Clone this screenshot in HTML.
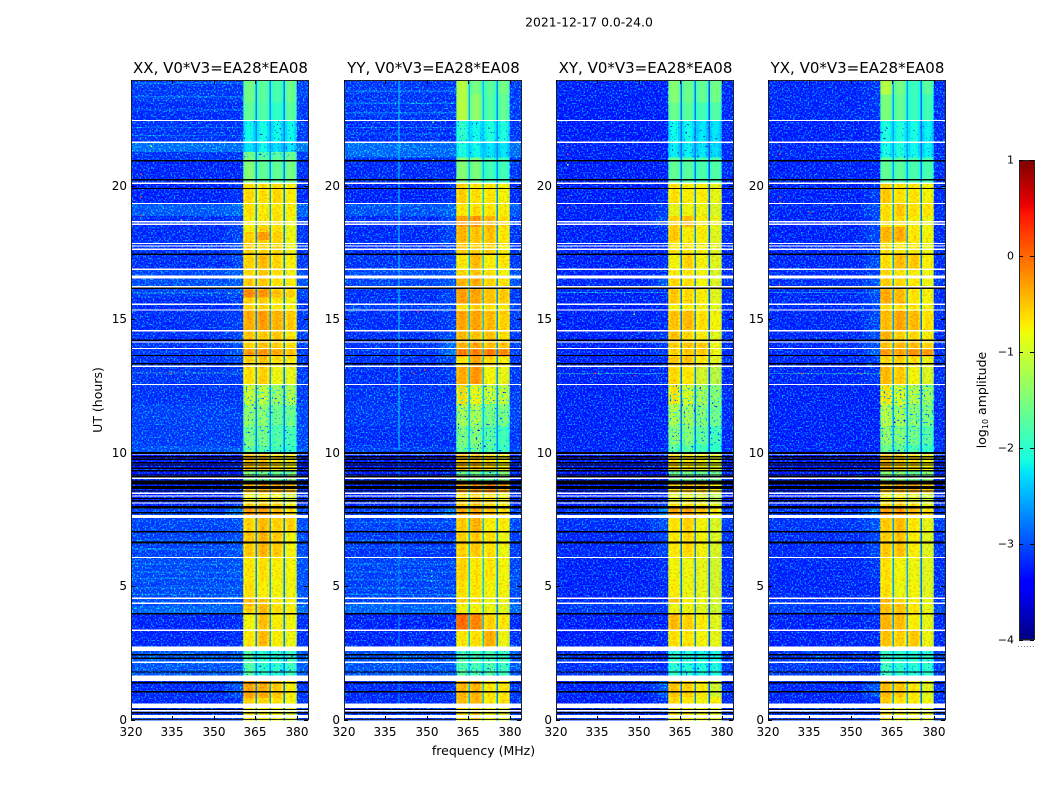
<!DOCTYPE html>
<html lang="en">
<head>
<meta charset="utf-8">
<title>2021-12-17 0.0-24.0</title>
<style>
html,body{margin:0;padding:0;background:#fff;}
svg{display:block;}
text{font-family:"DejaVu Sans","Liberation Sans",sans-serif;fill:#000;}
</style>
</head>
<body>
<svg id="chart" xmlns="http://www.w3.org/2000/svg" width="1050" height="800" viewBox="0 0 1050 800">
  <defs>
    <filter id="speckle" x="0" y="0" width="100%" height="100%" color-interpolation-filters="sRGB">
      <feTurbulence type="fractalNoise" baseFrequency="0.62" numOctaves="1" seed="7"/>
      <feColorMatrix type="matrix" values="0 0 0 0 0  5 0 0 0 -2.5  0 0 0 0 1  0 0 0 0 0.6"/>
    </filter>
    <filter id="cool-speckle" x="0" y="0" width="100%" height="100%" color-interpolation-filters="sRGB">
      <feTurbulence type="fractalNoise" baseFrequency="0.5" numOctaves="1" seed="11"/>
      <feColorMatrix type="matrix" values="0 0 0 0 0  0 4 0 0 -1.1  0 0 0 0 1  6 0 0 0 -3.3"/>
    </filter>
    <filter id="hot-speckle" x="0" y="0" width="100%" height="100%" color-interpolation-filters="sRGB">
      <feTurbulence type="fractalNoise" baseFrequency="0.42 0.55" numOctaves="2" seed="4"/>
      <feColorMatrix type="matrix" values="0 0 0 0 1  3.5 0 0 0 -0.85  0 0 0 0 0  0 0 0 0 0.22"/>
    </filter>
  </defs>
  <rect x="0" y="0" width="1050" height="800" fill="#fff"/>
  <text x="589" y="26.5" font-size="12.4" text-anchor="middle">2021-12-17 0.0-24.0</text>
  <text x="483.5" y="755" font-size="12.5" text-anchor="middle">frequency (MHz)</text>
  <text transform="translate(102,400) rotate(-90)" font-size="12.5" text-anchor="middle">UT (hours)</text>
  <text transform="translate(986,400) rotate(-90)" font-size="12.5" text-anchor="middle">log<tspan font-size="8" dy="2">10</tspan><tspan dy="-2"> amplitude</tspan></text>
  <g id="panels"></g>
  <g id="colorbar"></g>
</svg>
<script>
// ---------- shared axis data ----------
const freqTicks = [320, 335, 350, 365, 380];
const hourTicks = [0, 5, 10, 15, 20];
const colorTicks = [-4, -3, -2, -1, 0, 1];
const panelNames = ['xx', 'yy', 'xy', 'yx'];
const panelTitles = ['XX, V0*V3=EA28*EA08', 'YY, V0*V3=EA28*EA08', 'XY, V0*V3=EA28*EA08', 'YX, V0*V3=EA28*EA08'];

// frequency channel edges (MHz) and what each channel samples
const channelEdges = [320,354,357,360.5,361.4,362.3,363.2,364.1,365,365.6,366.5,367.4,368.3,369.2,370.1,370.6,371.5,372.4,373.3,374.2,375.1,375.7,376.5,377.3,378.2,379.1,380,384];
const channelGroup = ['bg','mid','sh',0,0,0,0,0,'g0',1,1,1,1,1,'g1',2,2,2,2,2,'g2',3,3,3,3,3,'bg'];
const channelOffset = [0,0,0,-0.1,0.04,0.08,0.04,-0.12,0,-0.1,0.05,0.08,0.04,-0.12,0,-0.1,0.05,0.08,0.04,-0.12,0,-0.1,0.05,0.08,0.04,-0.15,0.1];
const subbandRanges = [[360.5,365],[365.6,370.1],[370.6,375.1],[375.7,380]];

// flagged (missing) time samples: [hour, thickness in hours]
const whiteRows = [[22.44,.045],[21.62,.045],[20.08,.05],[19.33,.045],[18.64,.045],[18.55,.045],[17.83,.045],[17.73,.045],[17.61,.05],[16.86,.045],[16.58,.11],[16.21,.045],[15.55,.045],[15.34,.045],[14.56,.045],[14.14,.045],[13.9,.045],[13.23,.05],[12.55,.045],[9.95,.06],[9.03,.05],[8.47,.05],[8.37,.05],[8.11,.05],[7.6,.11],[6.07,.045],[4.54,.05],[4.35,.05],[3.34,.05],[2.65,.17],[2.14,.05],[1.54,.2],[0.51,.16],[0.33,.07],[0.11,.12]];
const blackRows = [[20.93,.05],[20.21,.05],[19.89,.05],[17.43,.05],[16.15,.05],[14.2,.05],[13.63,.05],[13.33,.05],[9.98,.06],[9.84,.05],[9.75,.05],[9.62,.05],[9.53,.05],[9.41,.05],[9.32,.05],[9.16,.05],[9.09,.05],[8.93,.06],[8.85,.08],[8.72,.05],[8.66,.05],[8.56,.05],[8.28,.05],[8.19,.05],[7.95,.1],[7.74,.05],[7.03,.05],[6.63,.06],[3.96,.05],[2.42,.05],[2.29,.05],[1.78,.05],[1.38,.06],[1.04,.05],[0.38,.04],[0.25,.05]];

// log10 amplitude by time block: [top hour, background, shoulder, sub-band 1, 2, 3, 4]
const xxBlocks = [
[24,-2.95,-2.95,-1.6,-1.75,-1.85,-1.65],[23.1,-3.05,-3.05,-1.7,-1.8,-2,-1.75],[22.45,-3,-3,-2.2,-2.15,-2.2,-2.2],
[21.6,-2.3,-2.3,-2.3,-2.2,-2.35,-2.3],[21.25,-3,-3,-1.55,-1.75,-1.7,-1.6],[20.95,-3.15,-3.15,-1.5,-1.7,-1.7,-1.6],
[20.1,-3.2,-3,-.65,-.7,-.65,-.8],[19.3,-2.55,-2.35,-.7,-.8,-.75,-.8],[18.85,-3.05,-2.9,-.8,-.75,-.7,-.85],[18.5,-3.1,-2.8,-.8,-.6,-.7,-.95],
[18.25,-3.1,-2.8,-.6,-.25,-.6,-.9],[17.95,-3.05,-2.7,-.6,-.6,-.65,-.9],[17.45,-3.05,-2.8,-.6,-.45,-.65,-.8],[16.85,-2.75,-2.5,-.65,-.55,-.7,-.85],
[16.55,-2.7,-2.5,-.55,-.55,-.75,-.8],[16.1,-2.9,-2.7,-.1,-.2,-.5,-.6],[15.8,-3.1,-2.9,-.6,-.6,-.75,-.85],[15.3,-3.05,-2.85,-.35,-.25,-.4,-.55],
[14.55,-3.05,-2.8,-.5,-.55,-.55,-.75],[14.15,-3,-2.7,-.6,-.5,-.6,-.7],[13.85,-3,-2.6,-.25,-.2,-.35,-.5],[13.6,-3.05,-2.8,-.6,-.5,-.7,-.8],
[13.2,-3,-2.9,-.7,-.6,-.9,-.95],[12.55,-3,-3,-1,-1.1,-1.3,-1.2],[11.8,-2.85,-2.85,-1.35,-1.4,-1.6,-1.55],[11,-2.9,-2.9,-1.5,-1.55,-1.75,-1.8],
[10.25,-2.65,-2.55,-1.65,-1.75,-1.85,-1.95],[9.95,-3.3,-3.3,-.5,-.5,-.7,-.8],[9.3,-3.25,-3.25,-1.45,-1.5,-1.6,-1.4],[8.85,-3.2,-3.1,-.5,-.3,-.35,-.5],
[8.5,-3.25,-3.2,-.9,-.8,-.9,-1.1],[8.1,-3.2,-3,-.6,-.5,-.6,-.8],[7.9,-2.8,-2.2,-.25,-.25,-.45,-.7],[7.55,-2.8,-2.7,-.6,-.45,-.6,-.6],
[7,-2.85,-2.7,-.55,-.4,-.55,-.85],[6.1,-2.75,-2.7,-.75,-.7,-.8,-.85],[5.2,-2.75,-2.7,-.7,-.8,-.85,-.9],[4.55,-2.7,-2.6,-.45,-.5,-.75,-.85],
[4.25,-2.4,-2.35,-.6,-.45,-.7,-.8],[3.95,-3.15,-3.1,-.85,-.5,-.8,-.85],[3.3,-3.15,-3.05,-.75,-.45,-.8,-.9],[2.75,-2.75,-2.75,-.85,-.85,-.85,-.9],
[2.6,-2.6,-2.6,-1.75,-2,-2,-1.9],[1.45,-3.1,-2.6,-.3,-.35,-.55,-.8],[.8,-3.15,-3.05,-.6,-.65,-.7,-.85],[.45,-3,-3,-.8,-.8,-.85,-1]
];
const yyBlocks = [
[24,-2.95,-2.95,-1.2,-1.6,-1.75,-1.6],[23.4,-3,-3,-1.2,-1.45,-1.8,-1.7],[22.45,-3.05,-3.05,-2,-2.2,-2.1,-2.1],
[21.6,-2.35,-2.35,-2.1,-2.2,-2.3,-2.3],[21.05,-3.1,-3.1,-1.5,-1.55,-1.9,-1.9],[20.1,-3.2,-3,-.6,-.7,-.75,-.85],
[19.3,-2.65,-2.45,-.75,-.7,-.75,-.8],[18.85,-3.1,-2.7,-.25,-.2,-.4,-.65],[18.45,-3.1,-2.8,-.4,-.5,-.5,-.75],[17.9,-3.1,-2.9,-.55,-.6,-.6,-.8],
[17.4,-3,-2.8,-.75,-.45,-.8,-.75],[16.85,-2.75,-2.6,-.65,-.55,-.7,-.85],[16.55,-2.8,-2.6,-.4,-.35,-.6,-.7],[16.15,-3.05,-2.8,-.25,-.3,-.5,-.55],
[15.55,-2.85,-2.8,-.7,-.6,-.7,-.8],[15.3,-3.05,-2.9,-.3,-.3,-.45,-.6],[14.55,-3.05,-2.7,-.45,-.5,-.5,-.7],[14.15,-3,-2.4,-.4,-.3,-.5,-.5],
[13.85,-3,-2.2,-.05,-.05,0,-.1],[13.6,-3.05,-2.8,-.7,-.3,-.65,-.8],[13.2,-3.05,-2.9,-.35,-.2,-.85,-.95],[12.55,-3,-3,-.65,-.8,-1,-1.1],
[11.8,-2.95,-2.95,-1.25,-1.2,-1.5,-1.5],[11,-3.05,-3.05,-1.5,-1.45,-1.7,-1.85],[10.2,-2.85,-2.85,-1.6,-1.6,-1.75,-1.9],[9.95,-3.3,-3.3,-.5,-.55,-.7,-.85],
[9.3,-3.25,-3.25,-1.5,-1.5,-1.6,-1.4],[8.85,-3.2,-3.1,-.3,-.2,-.1,-.35],[8.5,-3.25,-3.2,-.7,-.6,-.7,-.9],[8.1,-3.2,-3,-.6,-.5,-.6,-.8],
[7.9,-2.9,-2.2,-.35,-.3,-.5,-.7],[7.55,-2.85,-2.85,-.55,-.4,-.8,-.8],[7,-3,-3,-.6,-.55,-.7,-.9],[6.1,-2.85,-2.85,-.6,-.75,-.75,-.85],
[5.2,-2.85,-2.85,-.7,-.75,-.85,-.85],[4.55,-2.85,-2.85,-.6,-.7,-.9,-.9],[4.35,-2.45,-2.4,-.85,-.85,-.9,-1],[3.95,-3.2,-3.1,.1,-.1,-.6,-.75],
[3.35,-3.15,-3,-.75,-.7,-.35,-.9],[2.75,-2.8,-2.8,-.8,-.85,-.75,-.85],[2.6,-2.65,-2.6,-1.75,-1.8,-1.8,-1.9],[1.45,-3.1,-3,-.4,-.4,-.75,-.75],
[.8,-3.1,-3.05,-.45,-.4,-.75,-.7],[.45,-3,-3,-.7,-.7,-.85,-1]
];
const xyBlocks = [
[24,-3.2,-3.2,-1.5,-1.65,-1.7,-1.6],[23.1,-3.25,-3.25,-1.65,-1.75,-1.9,-1.8],[22.45,-3.25,-3.25,-2.2,-2.2,-2.3,-2.3],
[21.6,-3.2,-3.2,-2.25,-2.25,-2.3,-2.35],[21.05,-3.25,-3.25,-1.7,-1.75,-1.85,-1.8],[20.1,-3.25,-3.1,-.7,-.8,-.8,-.95],
[19.3,-3.2,-2.9,-.95,-.9,-.9,-1.05],[18.85,-3.2,-2.8,-.6,-.45,-.8,-.9],[18.45,-3.2,-3.05,-.55,-.8,-.8,-1],[17.9,-3.2,-3.1,-.75,-.75,-.85,-1],
[17.4,-3.2,-3.1,-.85,-.6,-.85,-1],[16.85,-3.2,-3.1,-.8,-.75,-.85,-1.05],[16.55,-3.15,-2.6,-.65,-.7,-.85,-1.05],[16.15,-3.2,-3.1,-.55,-.65,-.8,-1],
[15.55,-3.2,-3.1,-.85,-.8,-.85,-1],[15.3,-3.2,-3.1,-.5,-.45,-.7,-.85],[14.55,-3.2,-2.95,-.5,-.65,-.8,-1],[14.15,-3.2,-2.9,-.6,-.55,-.55,-.9],
[13.6,-3.2,-3.05,-.55,-.5,-.75,-1],[13.2,-3.2,-3.1,-.65,-.75,-1.1,-1.3],[12.55,-3.2,-3.2,-.7,-.95,-1.25,-1.4],[11.8,-3.2,-3.2,-1.2,-1.25,-1.45,-1.55],
[11,-3.2,-3.2,-1.45,-1.45,-1.65,-1.85],[10.3,-3.15,-3.15,-1.7,-1.7,-1.85,-1.95],[9.95,-3.3,-3.3,-.7,-.75,-.85,-1],[9.3,-3.3,-3.3,-1.5,-1.5,-1.6,-1.5],
[8.85,-3.25,-3.1,-.65,-.5,-.55,-.8],[8.5,-3.3,-3.2,-1,-1,-1.1,-1.3],[8.1,-3.25,-3,-.7,-.7,-.8,-1],[7.9,-3,-2.2,-.3,-.3,-.5,-.8],
[7.55,-3.05,-2.7,-.7,-.6,-.85,-1.05],[7,-3.15,-2.85,-.75,-.65,-.85,-1.05],[6.1,-3.2,-3.05,-.85,-.9,-.95,-1.1],[5.2,-3.2,-3.15,-.8,-.9,-.95,-1.1],
[4.55,-3.1,-3.05,-.5,-.8,-.9,-1.1],[4.35,-2.95,-2.95,-.9,-.9,-1,-1.15],[3.95,-3.25,-3.2,-.45,-.6,-.8,-1],[3.35,-3.25,-3.15,-.7,-.75,-.85,-.95],
[2.75,-3.2,-3.2,-.9,-.95,-1,-1],[2.6,-3.05,-3.05,-2,-2.05,-2.1,-2.1],[1.45,-3.2,-2.6,-.5,-.6,-.8,-1.15],[.85,-3.25,-3.1,-.65,-.75,-.85,-.8],[.45,-3.1,-3.1,-.75,-.8,-.85,-1]
];
const yxBlocks = [
[24,-3.15,-3,-1.2,-1.6,-1.95,-1.75],[23.4,-3.15,-3,-1.55,-1.7,-1.95,-1.9],[22.45,-3.2,-3.1,-2.1,-2.1,-2.15,-2.25],
[21.6,-3.15,-3.1,-2.15,-2.1,-2.2,-2.25],[21.05,-3.2,-3.15,-1.7,-1.75,-1.85,-1.85],[20.1,-3.2,-2.95,-.55,-.7,-.75,-.85],
[19.3,-3.15,-2.75,-.7,-.55,-.7,-.75],[18.85,-3.2,-2.85,-.7,-.65,-.8,-.9],[18.45,-3.2,-2.75,-.4,-.35,-.75,-.85],[17.9,-3.15,-2.95,-.7,-.75,-.8,-.9],
[17.4,-3.15,-2.75,-.7,-.45,-.55,-.8],[16.85,-3.1,-2.9,-.65,-.75,-.8,-.9],[16.55,-3.05,-2.6,-.6,-.65,-.75,-.9],[16.15,-3.15,-2.7,-.35,-.45,-.75,-.85],
[15.55,-3.1,-2.8,-.65,-.7,-.75,-.85],[15.3,-3.15,-2.8,-.45,-.3,-.45,-.7],[14.55,-3.15,-2.7,-.4,-.6,-.65,-.8],[14.15,-3.1,-2.6,-.5,-.45,-.45,-.6],
[13.85,-3.1,-2.5,-.25,-.3,-.15,-.2],[13.6,-3.15,-2.9,-.65,-.6,-.7,-.9],[13.2,-3.15,-3,-.45,-.55,-.85,-1.05],[12.55,-3.2,-3.2,-.7,-.95,-1.15,-1.3],
[11.8,-3.2,-3.2,-1.15,-1.25,-1.4,-1.5],[11,-3.2,-3.2,-1.35,-1.4,-1.55,-1.7],[10.3,-3.15,-3.15,-1.6,-1.65,-1.8,-1.9],[9.95,-3.3,-3.3,-.45,-.6,-.7,-.85],
[9.3,-3.3,-3.3,-1.4,-1.4,-1.5,-1.4],[8.85,-3.25,-2.9,-.5,-.35,-.25,-.5],[8.5,-3.3,-3.2,-.9,-.8,-1,-1.2],[8.1,-3.25,-3,-.65,-.55,-.7,-.95],
[7.9,-3,-2.2,-.25,-.25,-.45,-.75],[7.55,-3,-2.6,-.55,-.45,-.75,-.95],[7,-3.1,-2.8,-.55,-.5,-.8,-1],[6.1,-3.15,-3,-.7,-.85,-.9,-1],
[5.2,-3.15,-3.1,-.7,-.9,-.85,-1],[4.55,-3.05,-2.8,-.4,-.6,-.8,-1],[4.35,-2.9,-2.85,-.5,-.5,-.75,-.95],[3.95,-3.2,-3.1,-.4,-.45,-.8,-.95],
[3.35,-3.2,-3.1,-.5,-.6,-.55,-.9],[2.75,-3.15,-3.1,-.85,-.9,-.9,-.95],[2.6,-2.95,-2.95,-1.9,-2,-2.05,-2],[1.45,-3.15,-2.6,-.45,-.55,-.75,-1],
[.85,-3.2,-3.05,-.55,-.7,-.8,-.9],[.45,-3.05,-3.05,-.75,-.8,-.85,-1]
];
const panelBlocks = [xxBlocks, yyBlocks, xyBlocks, yxBlocks];

// gap channel levels between the four sub-bands
const xxGaps = [-2.75, -2.7, -2.8];
const yyGaps = [-2.45, -2.45, -2.7];
const xyGaps = [-2.85, -2.8, -3.0];
const yxGaps = [-2.6, -2.6, -2.85];
const panelGaps = [xxGaps, yyGaps, xyGaps, yxGaps];

// time ranges (top hour, bottom hour) where the band is grainy at low or high level
const coolBandRanges = [[22.44,21.05],[12.55,9.95],[9.3,8.85],[2.6,1.55]];
const hotBandRanges = [[20.1,12.55],[9.95,9.3],[8.85,7.55],[7.55,2.62],[1.45,0]];

// faint broadband stripes outside the band: [hour, log10 amplitude]
const xxStripes = [[23.85,-2.35],[23.35,-2.3],[22.85,-2.35],[22.2,-2.45],[21.9,-2.45],[6.75,-2.25],[6.4,-2.25],[5.85,-2.2],[5.55,-2.2],[5.3,-2.2],[4.95,-2.15],[4.7,-2.15],[16,-1.9],[13,-1.7]];
const yyStripes = [[23.55,-2.3],[23.1,-2.25],[22.75,-2.25],[22.2,-2.35],[21.95,-2.35],[6.75,-2.25],[6.45,-2.25],[5.85,-2.25],[5.55,-2.2],[5.25,-2.2],[4.95,-2.2],[4.7,-2.15],[7.4,-2.3]];
const xyStripes = [[16.02,-2],[12.98,-1.9]];
const yxStripes = [[16.02,-2],[12.98,-1.9]];
const panelStripes = [xxStripes, yyStripes, xyStripes, yxStripes];

// isolated interference spikes: [MHz, hour, log10 amplitude]
const xxSpikes = [[323.5,20.45,.1],[323.5,19.6,.2],[327,21.5,-1],[334,13,.4],[323.5,18.9,.2],[338,18.7,-.2],[355,16,-1.6]];
const yySpikes = [[351.5,5.6,-2],[351.5,5.4,-2],[351.5,5.2,-1.9],[352,22.4,-1.6],[352,21,-1.7],[349,13.1,.2],[346.5,15.3,.3],[345,13,.2]];
const xySpikes = [[324,21.5,.2],[324,21.2,.1],[324,20.8,-1],[324,19.6,.2],[324,19.2,.1],[324,16.2,.1],[334,13,.2],[348,15.2,-1],[348,12.9,.4]];
const yxSpikes = [[324,21.5,.2],[324,21.2,.1],[324,19.6,.3],[324,19.4,.2],[324,16.3,.2],[332,13,.2],[353,13,.3],[335,19,.3]];
const panelSpikes = [xxSpikes, yySpikes, xySpikes, yxSpikes];

// vertical interference lines: [MHz, top hour, bottom hour, log10 amplitude]
const xxVerticals = [];
const yyVerticals = [[340,24,10.1,-2.3],[340,9.9,0.6,-2.65]];
const xyVerticals = [];
const yxVerticals = [];
const panelVerticals = [xxVerticals, yyVerticals, xyVerticals, yxVerticals];

// ---------- geometry ----------
const NS = 'http://www.w3.org/2000/svg';
const panelLeft = [131, 344, 556, 768];
const plotW = 177, plotTop = 80, plotBottom = 720;
const freqMin = 320, freqMax = 384;
function xScale(panel, f){ return panelLeft[panel] + (f - freqMin) / (freqMax - freqMin) * plotW; }
function yScale(h){ return Math.max(plotTop, 719.5 - h * 26.7); }
function cbScale(v){ return 640 - (v + 4) * 96; }

function lerpStops(stops, t){
  for (let i = 1; i < stops.length; i++) {
    if (t <= stops[i][0]) {
      const a = stops[i-1], b = stops[i];
      return a[1] + (b[1]-a[1]) * (t-a[0]) / (b[0]-a[0]);
    }
  }
  return stops[stops.length-1][1];
}
const jetR = [[0,0],[.35,0],[.66,1],[.89,1],[1,.5]];
const jetG = [[0,0],[.125,0],[.375,1],[.64,1],[.91,0],[1,0]];
const jetB = [[0,.5],[.11,1],[.34,1],[.65,0],[1,0]];
function jet(v){
  const t = Math.min(1, Math.max(0, (v + 4) / 5));
  const c = s => Math.round(255 * lerpStops(s, t));
  return 'rgb(' + c(jetR) + ',' + c(jetG) + ',' + c(jetB) + ')';
}
function make(tag, parent, attrs){
  const el = document.createElementNS(NS, tag);
  for (const k in attrs) el.setAttribute(k, attrs[k]);
  parent.appendChild(el);
  return el;
}
function channelValue(row, gaps, ch){
  const g = channelGroup[ch], off = channelOffset[ch];
  if (g === 'bg') return row[1] + off;
  if (g === 'mid') return (row[1] + row[2]) / 2;
  if (g === 'sh') return row[2];
  if (g === 'g0') return gaps[0];
  if (g === 'g1') return gaps[1];
  if (g === 'g2') return gaps[2];
  return row[3 + g] + off;
}

const root = document.getElementById('panels');
panelNames.forEach((name, p) => {
  const g = make('g', root, {});
  
  
  const blocks = panelBlocks[p], gaps = panelGaps[p];

  // heatmap cells
  blocks.forEach((row, i) => {
    const top = yScale(row[0]);
    const bottom = i + 1 < blocks.length ? yScale(blocks[i+1][0]) : plotBottom;
    for (let ch = 0; ch < channelGroup.length; ch++) {
      const x0 = xScale(p, channelEdges[ch]), x1 = xScale(p, channelEdges[ch+1]);
      const cell = make('rect', g, {x: x0, y: top, width: x1 - x0 + .4, height: bottom - top + .4, fill: jet(channelValue(row, gaps, ch)), 'shape-rendering': 'crispEdges'});
      
      
    }
  });

  // broadband stripes outside the band
  panelStripes[p].forEach(s => {
    const stripe = make('rect', g, {x: xScale(p, freqMin), y: yScale(s[0]), width: xScale(p, 360.5) - xScale(p, freqMin), height: 1.2, fill: jet(s[1]), 'shape-rendering': 'crispEdges'});
    
    
  });

  // speckle texture over out-of-band noise floor
  [[freqMin, 360.5], [380, freqMax]].forEach(range => {
    const noise = make('rect', g, {x: xScale(p, range[0]), y: plotTop, width: xScale(p, range[1]) - xScale(p, range[0]), height: plotBottom - plotTop, filter: 'url(#speckle)'});
    
    
  });

  // grain inside each sub-band, leaving the gaps clean
  subbandRanges.forEach(sb => {
    coolBandRanges.forEach(r => {
      const grain = make('rect', g, {x: xScale(p, sb[0]), y: yScale(r[0]), width: xScale(p, sb[1]) - xScale(p, sb[0]), height: yScale(r[1]) - yScale(r[0]), filter: 'url(#cool-speckle)'});
      
      
    });
    hotBandRanges.forEach(r => {
      const grain = make('rect', g, {x: xScale(p, sb[0]), y: yScale(r[0]), width: xScale(p, sb[1]) - xScale(p, sb[0]), height: yScale(r[1]) - yScale(r[0]), filter: 'url(#hot-speckle)'});
      
      
    });
  });

  // vertical interference
  panelVerticals[p].forEach(v => {
    const line = make('rect', g, {x: xScale(p, v[0]) - 1, y: yScale(v[1]), width: 1, height: yScale(v[2]) - yScale(v[1]), fill: jet(v[3]), 'shape-rendering': 'crispEdges'});
    
    
  });

  // point spikes
  panelSpikes[p].forEach(s => {
    const spike = make('rect', g, {x: xScale(p, s[0]), y: yScale(s[1]), width: 1.5, height: 1.5, fill: jet(s[2]), 'shape-rendering': 'crispEdges'});
    
    
  });

  // flagged time rows
  whiteRows.forEach(r => {
    const row = make('rect', g, {x: panelLeft[p], y: yScale(r[0]) - r[1] * 13.35, width: plotW, height: Math.max(1.2, r[1] * 26.7), fill: '#fff', 'shape-rendering': 'crispEdges'});
    
    
  });
  blackRows.forEach(r => {
    const row = make('rect', g, {x: panelLeft[p], y: yScale(r[0]) - r[1] * 13.35, width: plotW, height: Math.max(1.2, r[1] * 26.7), fill: '#000', 'shape-rendering': 'crispEdges'});
    
    
  });

  // frame
  const frame = make('rect', g, {x: panelLeft[p] + .5, y: plotTop + .5, width: plotW, height: plotBottom - plotTop - 1, fill: 'none', stroke: '#222', 'stroke-width': 1});
  
  

  // ticks and tick labels
  freqTicks.forEach(f => {
    const x = Math.round(xScale(p, f)) + .5;
    const t1 = make('line', g, {x1: x, x2: x, y1: plotBottom, y2: plotBottom - 4, stroke: '#000', 'stroke-width': 1});
    
    
    const t2 = make('line', g, {x1: x, x2: x, y1: plotTop, y2: plotTop + 4, stroke: '#000', 'stroke-width': 1});
    
    
    const label = make('text', g, {x: x - .5, y: 736, 'font-size': 12, 'text-anchor': 'middle'});
    
    
    label.textContent = f;
  });
  hourTicks.forEach(h => {
    const y = Math.round(yScale(h)) + .5;
    const t1 = make('line', g, {x1: panelLeft[p], x2: panelLeft[p] + 4, y1: y, y2: y, stroke: '#000', 'stroke-width': 1});
    
    
    const t2 = make('line', g, {x1: panelLeft[p] + plotW, x2: panelLeft[p] + plotW - 4, y1: y, y2: y, stroke: '#000', 'stroke-width': 1});
    
    
    const label = make('text', g, {x: panelLeft[p] - 4, y: y + 3.5, 'font-size': 12, 'text-anchor': 'end'});
    
    
    label.textContent = h;
  });

  const title = make('text', g, {x: panelLeft[p] + plotW / 2 + 1, y: 73, 'font-size': 15, 'text-anchor': 'middle'});
  
  
  title.textContent = panelTitles[p];
});

// ---------- colorbar ----------
const cb = document.getElementById('colorbar');
const cbLeft = 1019, cbWidth = 15, cbLevels = 256;
for (let i = 0; i < cbLevels; i++) {
  const v0 = -4 + 5 * i / cbLevels, v1 = -4 + 5 * (i + 1) / cbLevels;
  const seg = make('rect', cb, {x: cbLeft, y: cbScale(v1), width: cbWidth, height: cbScale(v0) - cbScale(v1) + .4, fill: jet((v0 + v1) / 2), 'shape-rendering': 'crispEdges'});
  
  
}
const cbFrame = make('rect', cb, {x: cbLeft + .5, y: 160.5, width: cbWidth, height: 479, fill: 'none', stroke: '#222', 'stroke-width': 1});


colorTicks.forEach(v => {
  const y = Math.round(cbScale(v)) + .5;
  const a = make('line', cb, {x1: cbLeft, x2: cbLeft + 4, y1: y, y2: y, stroke: '#000', 'stroke-width': 1});
  
  
  const b = make('line', cb, {x1: cbLeft + cbWidth, x2: cbLeft + cbWidth - 4, y1: y, y2: y, stroke: '#000', 'stroke-width': 1});
  
  
  const label = make('text', cb, {x: 1014, y: y + 3, 'font-size': 11, 'text-anchor': 'end'});
  
  
  label.textContent = v < 0 ? '\u2212' + Math.abs(v) : String(v);
});
const dots = make('line', cb, {x1: 1018, x2: 1034, y1: 646.5, y2: 646.5, stroke: '#888', 'stroke-width': 1, 'stroke-dasharray': '1 2'});


</script>
</body>
</html>
